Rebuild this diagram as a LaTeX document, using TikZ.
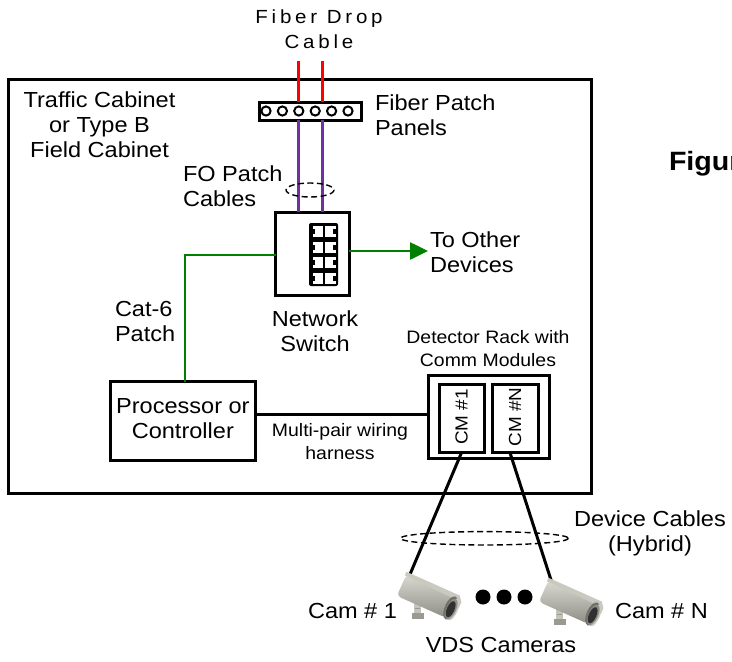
\documentclass[tikz,border=0pt]{standalone}
\usepackage{fontspec}
\setmainfont{Liberation Sans}[FakeStretch=1.08]
\usetikzlibrary{arrows.meta}

\definecolor{fiberred}{HTML}{FF0000}
\definecolor{patchpurple}{HTML}{7030A0}
\definecolor{catgreen}{HTML}{008000}
\definecolor{camlight}{HTML}{DADAD2}
\definecolor{camdark}{HTML}{8E8E86}
\definecolor{shieldgray}{HTML}{C9C9C0}
\definecolor{lensdark}{HTML}{303030}
\definecolor{mountgray}{HTML}{C4C4BC}
\definecolor{mountdark}{HTML}{9A9A92}

\tikzset{
  % surveillance camera: origin at the cable entry on top of the housing
  vdscam/.pic={
    \begin{scope}[scale=1.08]
    \fill[mountgray] (4,21) rectangle (11,37);
    \fill[mountdark] (2,35) rectangle (13,40);
    \draw[mountdark, line width=0.8pt] (5,26) -- (10,26) (5,30) -- (10,30);
    \begin{scope}[rotate=-24]
      \shade[top color=camlight, bottom color=camdark, rounded corners=4pt]
        (-3,0) rectangle (47,22);
      \fill[shieldgray] (-4,-2) -- (50,-2) -- (54,3) -- (54,9) -- (49,3) -- (-4,1.5) -- cycle;
      \fill[camdark!80!black] (47,12) ellipse (5.5 and 11.5);
      \fill[shieldgray] (50,12) ellipse (4 and 11);
      \fill[camdark] (48,12.5) ellipse (4.5 and 10);
      \fill[lensdark] (47.5,13) ellipse (3.5 and 8);
    \end{scope}
    \end{scope}
  }
}

\begin{document}
\begin{tikzpicture}[x=1pt, y=-1pt,
  every node/.style={inner sep=0pt, outer sep=0pt},
  lbl/.style={font=\fontsize{21.8}{25}\selectfont, align=center},
  lblsmall/.style={font=\fontsize{18}{23}\selectfont, align=center},
  spaced/.style={font=\fontsize{19}{25}\selectfont\addfontfeature{LetterSpace=20}, align=center},
  cmlbl/.style={font=\fontsize{17.5}{20}\selectfont, rotate=90},
  figlbl/.style={font=\fontsize{26.5}{30}\selectfont\bfseries},
  frame/.style={draw, line width=3pt, anchor=north west},
  wire/.style={line width=3pt},
  fiber/.style={line width=3pt, draw=fiberred},
  patch/.style={line width=3pt, draw=patchpurple},
  cat/.style={line width=2.6pt, draw=catgreen},
  bundle/.style={line width=1.4pt, dash pattern=on 6pt off 3.5pt},
  port/.style={fill=white}
]
\useasboundingbox (0,0) rectangle (732,662);
\clip (0,0) rectangle (732,662);
\fill[white] (0,0) rectangle (732,662);

% cabinet outline
\node[frame, minimum width=583pt, minimum height=414pt] (cabinet) at (8,79) {};

% fiber patch panel
\node[frame, minimum width=102pt, minimum height=18pt] (panel) at (259,102) {};
\foreach \px in {266,282.4,298.8,315.2,331.6,348}
  \draw[line width=2pt] (\px,111) circle (4.6);

% network switch with port block
\node[frame, minimum width=73.3pt, minimum height=83pt] (switch) at (275.7,212) {};
\node[fill=black, rounded corners=2pt, minimum width=29pt, minimum height=63pt, anchor=north west] (ports) at (309,223) {};
\foreach \py in {226,241.5,257,272.5} {
  \fill[port] (312.5,\py) rectangle (322.5,\py+11);
  \fill[black] (312.5,\py+3) rectangle (315,\py+8);
  \fill[port] (325,\py) rectangle (335.5,\py+11);
  \fill[black] (333,\py+3) rectangle (335.5,\py+8);
}

% processor / controller
\node[frame, minimum width=144.3pt, minimum height=78.3pt] (proc) at (110.7,381.7) {};
\node[lbl] (proctxt) at ([yshift=2pt]proc.center) {Processor or\\Controller};

% detector rack with comm modules
\node[frame, minimum width=121pt, minimum height=82.3pt] (rack) at (428,375.7) {};
\node[frame, minimum width=45pt, minimum height=68.7pt] (cm1) at (439,384) {};
\node[frame, minimum width=46pt, minimum height=68.7pt] (cmN) at (492,384) {};
\node[cmlbl] (cm1txt) at ([yshift=1.5pt]cm1.center) {CM \#1};
\node[cmlbl] (cmNtxt) at ([yshift=1.5pt]cmN.center) {CM \#N};

% fiber drop cable and FO patch cables
\coordinate (dropA) at (298,61);
\coordinate (dropB) at (322,61);
\draw[fiber] (dropA) -- (dropA |- panel.north);
\draw[fiber] (dropB) -- (dropB |- panel.north);
\draw[patch] (dropA |- panel.south) -- (dropA |- switch.north);
\draw[patch] (dropB |- panel.south) -- (dropB |- switch.north);
\draw[bundle] (310,190) ellipse (24 and 7);

% Cat-6 patch and uplink to other devices
\coordinate (catbend) at (185,255);
\coordinate (otherdev) at (428,251);
\draw[cat] (switch.west |- catbend) -- (catbend) -- (catbend |- proc.north);
\draw[cat, -{Triangle[length=18pt, width=17pt]}] (switch.east |- otherdev) -- (otherdev);

% multi-pair wiring harness
\coordinate (harness) at (300,414);
\draw[wire] (proc.east |- harness) -- (rack.west |- harness);

% device cables to the cameras
\coordinate (cam1) at (409.5,575.5);
\coordinate (camN) at (551.5,581.5);
\draw[wire] (cm1.south) -- (cam1);
\draw[wire] ([xshift=-5pt]cmN.south) -- (camN);
\draw[bundle] (484.5,538.3) ellipse (84 and 6.7);

\pic at (cam1) {vdscam};
\pic at (camN) {vdscam};
\foreach \dx in {483,504,525}
  \fill (\dx,597) circle (7.5);

% labels (base anchor = baseline of the last line)
\node[spaced, anchor=base] (droplbl) at (319,48) {Fiber Drop\\Cable};
\node[lbl, anchor=base] (cablbl) at (99.5,157) {Traffic Cabinet\\or Type B\\Field Cabinet};
\node[lbl, align=left, anchor=base west] (panellbl) at (375,135) {Fiber Patch\\Panels};
\node[lbl, align=left, anchor=base west] (folbl) at (183,206) {FO Patch\\Cables};
\node[lbl, align=left, anchor=base west] (otherlbl) at (430,272) {To Other\\Devices};
\node[lbl, anchor=base] (switchlbl) at (315,351) {Network\\Switch};
\node[lbl, align=left, anchor=base west] (catlbl) at (115,341) {Cat-6\\Patch};
\node[lblsmall, anchor=base] (racklbl) at (488,366) {Detector Rack with\\Comm Modules};
\node[lblsmall, anchor=base] (harnesslbl) at (340,459) {Multi-pair wiring\\harness};
\node[lbl, anchor=base] (devlbl) at (650,551) {Device Cables\\(Hybrid)};
\node[lbl, anchor=base east] (cam1lbl) at (397,618) {Cam \# 1};
\node[lbl, anchor=base west] (camNlbl) at (615,618) {Cam \# N};
\node[lbl, anchor=base] (vdslbl) at (501,652) {VDS Cameras};
\node[figlbl, anchor=base west] (figlbl) at (669,170) {Figur};
\end{tikzpicture}
\end{document}
